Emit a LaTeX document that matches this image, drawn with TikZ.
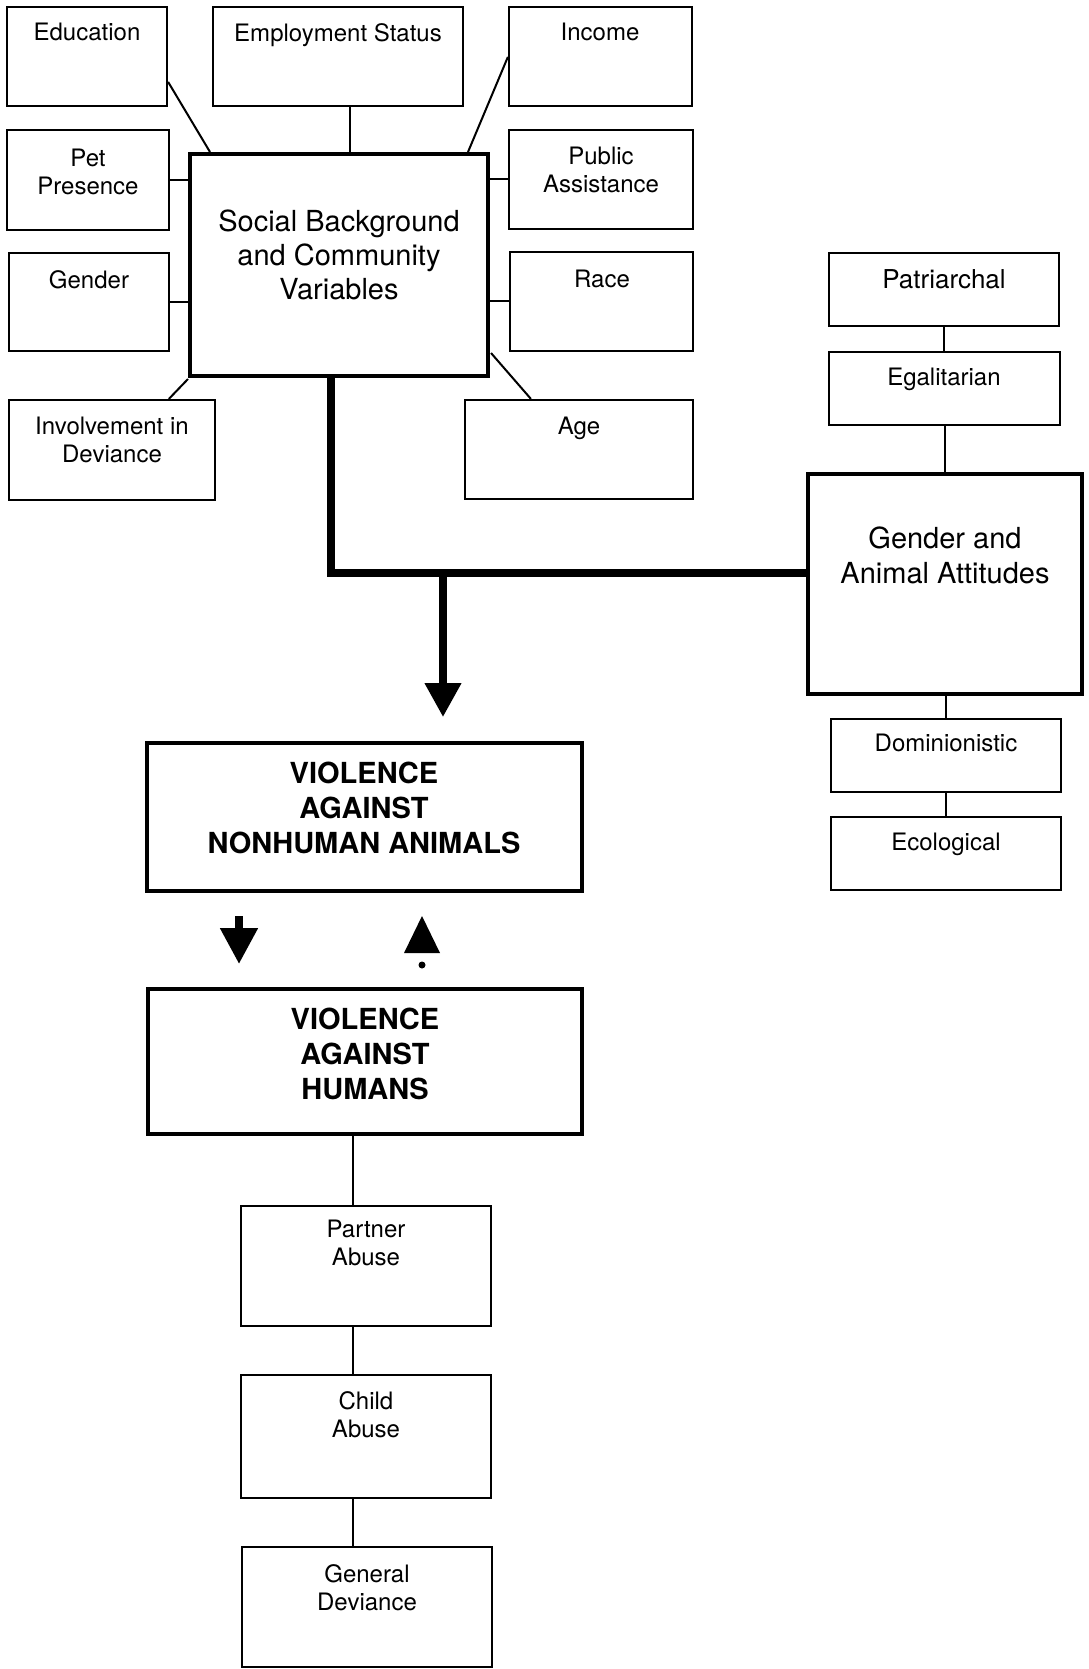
\documentclass[tikz,border=0pt]{standalone}
\usepackage{fontspec}
\setmainfont{TeX Gyre Heros}
\usetikzlibrary{arrows.meta,calc}
\newcommand\mybox[6]{\node[#6, minimum width={(#4-#2)*1pt}, minimum height={(#5-#3)*1pt}] (#1) at ({(#2+#4)/2},{(#3+#5)/2}) {};}
\begin{document}
\begin{tikzpicture}[x=1pt,y=-1pt,
  tbox/.style={draw=black, line width=2.2pt, rectangle, inner sep=0pt},
  kbox/.style={draw=black, line width=4pt, rectangle, inner sep=0pt},
  gbox/.style={draw=black, line width=4.5pt, rectangle, inner sep=0pt},
  txt/.style={inner sep=0pt, anchor=north, align=center, font=\fontsize{24}{28}\selectfont},
  ptxt/.style={inner sep=0pt, anchor=north, align=center, font=\fontsize{26}{30}\selectfont},
  bigtxt/.style={inner sep=0pt, anchor=north, align=center, font=\fontsize{29}{34}\selectfont},
  boldtxt/.style={inner sep=0pt, anchor=north, align=center, font=\fontsize{29}{35}\selectfont\bfseries},
  thinline/.style={line width=2pt},
  thickline/.style={line width=7.5pt}]

\useasboundingbox (0,0) rectangle (1088,1669);

% boxes
\mybox{edu}{7}{7}{167}{106}{tbox}
\mybox{emp}{213}{7}{463}{106}{tbox}
\mybox{inc}{509}{7}{692}{106}{tbox}
\mybox{pet}{7}{130}{169}{230}{tbox}
\mybox{soc}{190}{154}{488}{376}{kbox}
\mybox{pub}{509}{130}{693}{229}{tbox}
\mybox{gen}{9}{253}{169}{351}{tbox}
\mybox{race}{510}{252}{693}{351}{tbox}
\mybox{inv}{9}{400}{215}{500}{tbox}
\mybox{age}{465}{400}{693}{499}{tbox}
\mybox{pat}{829}{253}{1059}{326}{tbox}
\mybox{ega}{829}{352}{1060}{425}{tbox}
\mybox{gaa}{808}{474}{1082}{694}{gbox}
\mybox{dom}{831}{719}{1061}{792}{tbox}
\mybox{eco}{831}{817}{1061}{890}{tbox}
\mybox{vna}{147}{743}{582}{891}{kbox}
\mybox{vh}{148}{989}{582}{1134}{kbox}
\mybox{pa}{241}{1206}{491}{1326}{tbox}
\mybox{ca}{241}{1375}{491}{1498}{tbox}
\mybox{gd}{242}{1547}{492}{1667}{tbox}

% texts
\node[txt] (edut) at (87,23) {Education};
\node[txt] (empt) at (338,23) {Employment Status};
\node[txt] (inct) at (600,23) {Income};
\node[txt] (pett) at (88,149) {Pet\\Presence};
\node[txt] (pubt) at (601,147) {Public\\Assistance};
\node[txt] (gent) at (89,270) {Gender};
\node[txt] (racet) at (602,270) {Race};
\node[txt] (invt) at (112,417) {Involvement in\\Deviance};
\node[txt] (aget) at (579,417) {Age};
\node[bigtxt] (soct) at (339,210) {Social Background\\and Community\\Variables};
\node[ptxt] (patt) at (944,269) {Patriarchal};
\node[txt] (egat) at (944,368) {Egalitarian};
\node[bigtxt, font=\fontsize{29}{35}\selectfont] (gaat) at (945,527) {Gender and\\Animal Attitudes};
\node[txt] (domt) at (946,734) {Dominionistic};
\node[txt] (ecot) at (946,833) {Ecological};
\node[boldtxt] (vnat) at (364,762) {VIOLENCE\\AGAINST\\NONHUMAN ANIMALS};
\node[boldtxt] (vht) at (365,1008) {VIOLENCE\\AGAINST\\HUMANS};
\node[txt] (pat2) at (366,1220) {Partner\\Abuse};
\node[txt] (cat) at (366,1391) {Child\\Abuse};
\node[txt] (gdt) at (367,1564) {General\\Deviance};

% connectors around social box
\draw[thinline] ($(emp.south)+(12,0)$) -- ($(soc.north)+(11,0)$);
\draw[thinline] ($(edu.north east)+(0,76)$) -- ($(soc.north west)+(22,0)$);
\draw[thinline] ($(inc.north west)+(0,51)$) -- ($(soc.north east)+(-22,0)$);
\draw[thinline] (pet.east) -- (pet.east -| soc.west);
\draw[thinline] (gen.east) -- (gen.east -| soc.west);
\draw[thinline] (pub.west) -- (pub.west -| soc.east);
\draw[thinline] (race.west) -- (race.west -| soc.east);
\draw[thinline] ($(soc.south west)+(0,1)$) -- ($(inv.north west)+(161,0)$);
\draw[thinline] ($(soc.south east)+(1,-25)$) -- ($(age.north west)+(67,0)$);

% right column
\draw[thinline] (pat.south) -- (pat.south |- ega.north);
\draw[thinline] (ega.south) -- (ega.south |- gaa.north);
\draw[thinline] ($(gaa.south)+(1,0)$) coordinate (g1) -- (g1 |- dom.north);
\draw[thinline] (dom.south) -- (dom.south |- eco.north);

% bottom column
\draw[thinline] ($(vh.south)+(-12,0)$) coordinate (b1) -- (b1 |- pa.north);
\draw[thinline] (b1 |- pa.south) -- (b1 |- ca.north);
\draw[thinline] (b1 |- ca.south) -- (b1 |- gd.north);

% thick main connector
\coordinate (j1) at (331,573);
\coordinate (j2) at (443,573);
\coordinate (tip1) at (443,717);
\draw[thickline, line join=miter] ($(soc.south)+(-8,0)$) -- (j1) -- (gaa.west |- j1);
\draw[thickline, -{Triangle[width=35pt,length=34pt]}] (j2) -- (tip1);

% arrows between violence boxes
\coordinate (d1) at (239,916);
\coordinate (d2) at (239,964);
\draw[line width=8pt, -{Triangle[width=36pt,length=36pt]}] (d1) -- (d2);
\fill (422,916) -- (404,953) -- (440,953) -- cycle;
\fill (422,965) circle (3.5);
\end{tikzpicture}
\end{document}
